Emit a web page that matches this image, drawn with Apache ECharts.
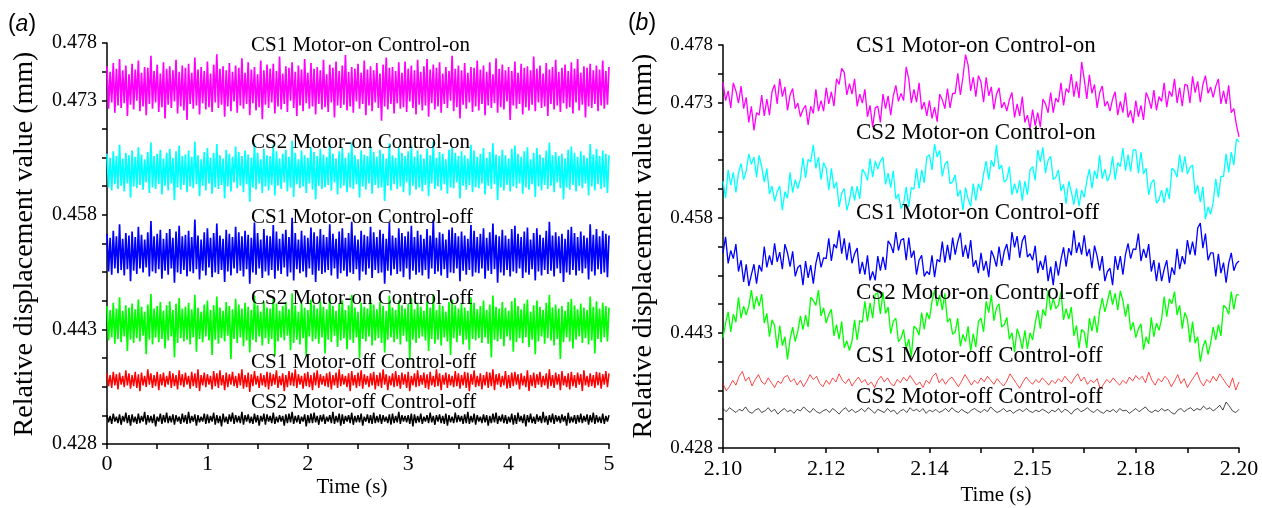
<!DOCTYPE html>
<html>
<head>
<meta charset="utf-8">
<script src="https://cdn.jsdelivr.net/npm/echarts@6/dist/echarts.min.js"></script>
<style>
html,body{margin:0;padding:0;background:#fff}
#chart{width:1262px;height:508px}
</style>
</head>
<body>
<div id="chart"></div>
<script>
// tick labels (the figure labels its ticks unevenly, keep them as printed)
var yTickLabels = ['0.428','','','','0.443','','','','0.458','','','','0.473','','0.478'];
var xTickLabelsA = ['0','','1','','2','','3','','4','','5'];
var xTickLabelsB = ['2.10','','2.12','','2.14','','2.15','','2.18','','2.20'];

var seriesNames = ['CS1 Motor-on Control-on','CS2 Motor-on Control-on','CS1 Motor-on Control-off',
    'CS2 Motor-on Control-off','CS1 Motor-off Control-off','CS2 Motor-off Control-off'];
var seriesColors = ['#ff00ff','#00ffff','#0000ff','#00ff00','#ff0000','#000000'];

// (a) 0 - 5 s, displacement in um
var a_cs1_on_on = [475.1,469.8,474.4,470.6,475.5,469.3,474.8,470.2,476.0,469.9,
474.6,470.5,475.2,468.9,474.1,470.3,475.4,469.7,474.7,470.8,
475.8,469.5,474.3,470.1,475.0,469.0,474.9,470.4,476.4,469.8,
474.5,470.6,475.3,469.4,474.2,470.0,475.6,468.6,474.8,470.3,
475.1,469.9,474.6,470.7,475.9,469.2,474.4,470.1,475.2,469.6,
474.9,468.4,475.4,470.4,474.3,469.8,476.2,470.2,474.7,469.1,
475.0,470.5,474.5,469.7,475.7,470.0,474.2,469.4,475.3,470.6,
476.6,469.9,474.8,470.3,475.1,468.8,474.6,470.1,475.5,469.5,
474.4,470.7,475.2,469.3,474.9,470.2,476.1,469.8,474.3,470.4,
475.6,469.0,474.7,470.5,475.0,469.6,474.1,470.0,475.8,468.5,
474.6,470.3,475.3,469.9,474.8,470.6,475.4,469.2,474.5,470.1,
476.3,469.7,474.2,470.4,475.1,469.4,474.9,470.8,475.6,469.9,
474.4,468.9,475.2,470.2,474.7,469.5,476.0,470.5,474.3,469.8,
475.5,470.1,474.8,469.1,475.0,470.4,474.6,469.7,475.9,470.0,
474.1,469.4,475.3,470.6,474.9,468.7,475.7,470.2,474.5,469.9,
475.2,470.3,476.5,469.6,474.4,470.1,475.0,469.3,474.8,470.7,
475.4,469.8,474.3,470.4,475.8,469.0,474.7,470.2,475.1,469.5,
474.6,470.6,475.5,469.9,474.2,468.3,475.3,470.1,476.2,469.7,
474.9,470.4,475.0,469.2,474.5,470.5,475.6,469.8,474.3,470.0,
475.7,469.4,474.8,470.7,475.2,469.9,474.6,469.1,475.9,470.3,
474.4,469.6,475.1,470.2,476.0,468.8,474.7,470.5,475.3,469.7,
474.9,470.1,475.6,469.3,474.2,470.4,475.0,469.9,474.5,470.8,
476.4,469.5,474.8,470.0,475.2,468.6,474.6,470.3,475.5,469.8,
474.3,470.6,475.0,469.4,474.9,470.1,475.8,469.6,474.7,470.4,
475.2,469.0,474.4,470.2,475.6,469.9,474.1,470.5,476.1,469.3,
474.8,470.0,475.3,469.7,474.6,470.7,475.0,468.4,474.5,470.2,
475.7,469.8,474.3,470.4,475.4,469.1,474.9,470.0,475.1,469.6,
474.6,470.3,476.3,469.5,474.8,470.6,475.2,469.9,474.2,470.1,
475.5,468.9,474.7,470.4,475.0,469.7,475.9,470.2,474.4,469.4,
474.9,470.5,475.3,469.8,474.5,470.0,475.6,469.2,474.8,470.6,
476.0,469.6,474.3,470.3,475.1,468.7,474.9,470.1,475.4,469.9,
474.6,470.4,475.2,469.5,474.7,470.2,475.8,469.8,474.5,470.3,
475.0];
var a_cs2_on_on = [464.2,460.0,463.7,459.6,464.5,460.4,463.9,459.8,465.3,460.2,
463.6,459.5,464.3,460.5,464.0,458.7,464.6,460.1,463.8,459.9,
465.0,460.3,464.1,459.7,463.5,460.6,464.4,459.3,465.6,460.0,
463.9,459.8,464.2,460.4,464.7,459.1,463.6,460.2,464.3,459.6,
464.8,460.5,463.7,458.4,464.5,460.0,465.2,459.7,463.9,460.3,
464.1,459.4,464.6,460.1,463.8,459.9,465.7,460.4,464.0,458.9,
463.5,460.2,464.4,459.6,464.9,460.5,463.7,459.2,464.3,460.0,
465.4,459.8,464.0,460.3,463.6,458.6,464.7,460.1,464.2,459.5,
463.8,460.6,465.1,459.9,464.4,460.2,463.9,459.4,464.6,460.4,
464.1,458.2,463.7,460.0,465.5,459.7,464.3,460.5,463.5,459.3,
464.8,460.1,464.0,459.6,463.9,460.3,465.3,459.0,464.5,460.2,
463.6,459.8,464.2,460.6,464.7,459.5,463.8,460.0,465.8,458.8,
464.3,460.4,463.5,459.9,464.6,460.1,464.0,459.3,463.7,460.5,
465.0,459.7,464.4,458.5,463.9,460.2,464.8,459.8,464.1,460.0,
463.8,460.3,465.4,459.6,464.2,460.6,463.6,459.1,464.5,459.9,
464.9,460.2,463.7,459.4,464.3,460.0,465.6,459.8,464.0,460.4,
463.5,458.7,464.6,460.1,464.1,459.7,463.9,460.5,465.1,459.2,
464.4,460.3,463.8,459.9,464.7,460.0,464.2,458.3,463.6,460.2,
465.5,459.6,464.0,460.4,463.7,459.8,464.9,460.1,464.3,459.4,
463.9,460.6,464.5,459.0,465.2,460.2,463.8,459.7,464.6,460.0,
464.1,459.5,463.6,460.3,464.8,458.9,464.0,460.5,465.7,459.8,
463.7,460.1,464.4,459.6,464.2,460.4,463.5,459.2,464.7,460.0,
465.0,459.9,464.3,460.6,463.9,458.6,464.5,460.2,464.0,459.7,
463.6,460.3,465.3,459.4,464.6,460.0,463.8,459.9,464.2,460.5,
464.9,459.1,463.7,460.2,464.4,459.8,465.5,460.4,464.1,458.4,
463.9,460.0,464.7,459.6,464.0,460.3,463.6,459.5,464.8,460.1,
465.2,459.9,464.2,460.5,463.8,459.2,464.5,460.0,465.0,459.7,
463.5,460.4,464.3,458.8,464.9,460.1,464.1,459.6,463.7,460.3,
464.6,459.8,465.6,460.2,464.0,459.4,464.4,460.6,463.9,459.9,
464.2,458.5,463.6,460.0,464.7,459.7,465.1,460.3,464.3,459.5,
463.8,460.2,464.5,459.9,464.0,460.5,463.7,459.0,465.4,460.1,
464.1,459.6,464.8,460.4,463.9,459.8,464.6,460.0,464.2,459.3,
464.0];
var a_cs1_on_off = [454.2,449.5,453.7,449.1,454.6,449.9,453.9,449.3,455.4,449.7,
453.6,449.0,454.3,449.8,454.0,448.3,454.5,449.6,453.8,449.2,
455.1,449.9,454.1,449.4,453.5,450.0,454.4,448.9,455.8,449.5,
453.9,449.3,454.2,449.8,454.7,448.6,453.6,449.6,454.3,449.1,
454.8,449.9,453.7,448.1,454.5,449.4,455.2,449.2,453.9,449.7,
454.1,448.9,454.6,449.5,453.8,449.3,456.0,449.8,454.0,448.5,
453.5,449.6,454.4,449.0,454.9,450.0,453.7,448.8,454.3,449.4,
455.5,449.2,454.0,449.7,453.6,448.2,454.7,449.5,454.2,449.0,
453.8,449.9,455.1,449.3,454.4,449.6,453.9,448.9,454.6,449.8,
454.1,448.0,453.7,449.4,455.6,449.1,454.3,449.9,453.5,448.7,
454.8,449.5,454.0,449.0,453.9,449.7,455.3,448.6,454.5,449.6,
453.6,449.2,454.2,450.0,454.7,448.9,453.8,449.4,456.2,448.4,
454.3,449.8,453.5,449.3,454.6,449.5,454.0,448.8,453.7,449.9,
455.0,449.1,454.4,448.2,453.9,449.6,454.8,449.2,454.1,449.4,
453.8,449.7,455.4,449.0,454.2,449.9,453.6,448.6,454.5,449.3,
454.9,449.6,453.7,448.9,454.3,449.4,455.7,449.2,454.0,449.8,
453.5,448.4,454.6,449.5,454.1,449.1,453.9,449.9,455.1,448.7,
454.4,449.7,453.8,449.3,454.7,449.4,454.2,448.0,453.6,449.6,
455.6,449.0,454.0,449.8,453.7,449.2,454.9,449.5,454.3,448.8,
453.9,449.9,454.5,448.5,455.2,449.6,453.8,449.1,454.6,449.4,
454.1,449.0,453.6,449.7,454.8,448.6,454.0,449.9,456.0,449.2,
453.7,449.5,454.4,449.0,454.2,449.8,453.5,448.7,454.7,449.4,
455.0,449.3,454.3,449.9,453.9,448.3,454.5,449.6,454.0,449.1,
453.6,449.7,455.3,448.9,454.6,449.4,453.8,449.3,454.2,449.9,
454.9,448.6,453.7,449.6,454.4,449.2,455.5,449.8,454.1,448.1,
453.9,449.4,454.7,449.0,454.0,449.7,453.6,448.9,454.8,449.5,
455.2,449.3,454.2,449.9,453.8,448.7,454.5,449.4,455.0,449.1,
453.5,449.8,454.3,448.4,454.9,449.5,454.1,449.0,453.7,449.7,
454.6,449.2,455.7,449.6,454.0,448.9,454.4,449.9,453.9,449.3,
454.2,448.2,453.6,449.4,454.7,449.1,455.1,449.7,454.3,449.0,
453.8,449.6,454.5,449.3,454.0,449.9,453.7,448.5,455.4,449.5,
454.1,449.0,454.8,449.8,453.9,449.2,454.6,449.4,454.2,448.8,
454.0];
var a_cs2_on_off = [445.2,440.9,444.7,441.3,445.6,440.5,444.9,441.1,446.3,440.7,
444.6,441.4,445.3,439.6,445.0,441.0,445.5,440.6,444.8,441.2,
446.0,440.8,445.1,441.5,444.5,439.2,445.4,441.0,446.7,440.4,
444.9,441.3,445.2,440.7,445.7,441.1,444.6,439.9,445.3,440.9,
445.8,441.4,444.7,438.8,445.5,440.6,446.2,441.2,444.9,440.8,
445.1,441.0,445.6,440.4,444.8,441.3,446.6,439.5,445.0,441.1,
444.5,440.7,445.4,441.4,445.9,440.9,444.7,439.1,445.3,441.0,
446.4,440.5,445.0,441.2,444.6,440.8,445.7,441.5,445.2,438.6,
444.8,441.1,446.1,440.6,445.4,441.3,444.9,440.2,445.6,440.9,
445.1,439.4,444.7,441.0,446.5,440.7,445.3,441.4,444.5,440.3,
445.8,441.2,445.0,440.5,444.9,441.1,446.3,439.0,445.5,440.8,
444.6,441.3,445.2,440.9,445.7,441.5,444.8,439.7,446.8,440.6,
445.3,441.0,444.5,440.4,445.6,441.2,445.0,438.9,444.7,441.4,
446.0,440.8,445.4,441.1,444.9,440.5,445.8,441.3,445.1,439.3,
444.8,441.0,446.4,440.7,445.2,441.5,444.6,440.1,445.5,440.9,
445.9,441.2,444.7,439.8,445.3,441.0,446.6,440.6,445.0,441.3,
444.5,438.7,445.6,441.1,445.1,440.8,444.9,441.4,446.1,440.3,
445.4,440.9,444.8,441.2,445.7,440.6,445.2,439.4,444.6,441.0,
446.5,441.3,445.0,440.7,444.7,441.1,445.9,440.4,445.3,441.5,
444.9,440.8,445.5,438.5,446.2,441.0,444.8,440.6,445.6,441.2,
445.1,441.4,444.6,440.9,445.8,439.6,445.0,441.1,446.7,440.5,
444.7,441.0,445.4,440.3,445.2,441.3,444.5,440.8,445.7,439.1,
446.0,441.2,445.3,440.7,444.9,441.5,445.5,440.4,445.0,441.0,
444.6,439.7,446.3,441.1,445.6,440.9,444.8,441.2,445.2,440.6,
445.9,441.3,444.7,440.5,445.4,438.8,446.5,441.0,445.1,440.8,
444.9,441.1,445.7,440.2,445.0,441.4,444.6,440.9,445.8,439.5,
446.2,440.7,445.2,441.2,444.8,440.6,445.5,441.3,446.0,440.1,
444.5,441.0,445.3,439.2,445.9,440.8,445.1,441.4,444.7,440.5,
445.6,441.2,446.6,440.9,445.0,440.3,445.4,441.1,444.9,438.6,
445.2,440.7,444.6,441.3,445.7,440.8,446.1,439.9,445.3,441.0,
444.8,441.4,445.5,440.6,445.0,441.2,444.7,440.4,446.4,440.9,
445.1,439.3,445.8,441.1,444.9,440.7,445.6,441.3,445.2,440.8,
445.0];
var a_cs1_off_off = [436.8,435.2,436.6,435.0,437.0,435.3,436.7,434.8,436.9,435.4,
436.5,435.1,437.2,435.3,436.8,434.9,436.6,435.2,437.0,435.0,
436.7,434.6,436.9,435.3,436.5,435.1,437.3,435.4,436.8,435.0,
436.6,435.2,437.0,434.7,436.7,435.3,436.9,435.1,436.5,435.4,
437.1,435.0,436.8,435.2,436.6,434.8,437.2,435.3,436.7,435.1,
436.9,435.4,436.5,434.9,437.0,435.2,436.8,435.0,437.3,434.6,
436.6,435.3,436.9,435.1,436.7,435.4,436.5,434.8,437.1,435.2,
436.8,435.0,437.2,435.3,436.6,434.7,436.9,435.1,436.7,435.4,
437.0,435.2,436.5,435.0,436.8,435.3,437.3,434.9,436.6,435.1,
436.9,434.5,436.7,435.2,437.1,435.4,436.5,435.0,436.8,435.3,
436.6,435.1,437.0,434.8,436.9,435.2,436.7,435.4,437.2,435.0,
436.5,435.3,436.8,434.6,436.6,435.1,437.1,435.3,436.9,435.2,
437.3,435.0,436.7,435.4,436.5,434.9,436.8,435.2,437.0,435.1,
436.6,434.7,436.9,435.3,437.2,435.0,436.7,435.4,436.5,435.2,
436.8,435.1,437.0,434.8,436.6,435.3,436.9,435.0,437.3,435.2,
436.7,435.4,436.5,435.1,436.8,434.6,437.1,435.3,436.6,435.0,
436.9,435.2,437.2,434.9,436.7,435.4,436.5,435.1,436.8,435.3,
437.0,434.8,436.6,435.2,436.9,435.0,437.3,435.4,436.7,434.7,
436.5,435.3,436.8,435.1,437.1,435.2,436.6,434.9,436.9,435.4,
436.7,435.0,437.0,434.6,436.5,435.3,436.8,435.1,437.2,435.2,
436.6,435.4,436.9,435.0,436.7,434.8,437.0,435.3,436.5,435.1,
437.3,435.2,436.8,434.7,436.6,435.4,436.9,435.0,436.7,435.3,
436.5,435.1,437.1,435.2,436.8,434.9,436.6,435.3,437.0,435.0,
436.9,434.6,436.7,435.4,437.2,435.1,436.5,435.2,436.8,434.8,
436.6,435.3,437.0,435.0,436.9,435.2,437.3,434.7,436.7,435.4,
436.8,435.1,436.5,435.3,437.1,434.9,436.6,435.0,436.9,435.2,
437.0,435.4,436.7,434.8,436.8,435.3,436.5,435.1,437.2,434.6,
436.6,435.2,436.9,435.0,436.7,435.4,437.0,435.1,436.5,435.3,
436.8,434.9,437.3,435.2,436.6,435.0,436.9,435.4,436.7,434.7,
437.1,435.3,436.5,435.1,436.8,434.8,437.0,435.2,436.6,435.0,
436.9,435.4,436.7,434.6,437.2,435.3,436.5,435.1,436.8,435.2,
436.6,435.0,437.0,435.3,436.9,434.9,436.7,435.4,437.1,435.1,
436.8];
var a_cs2_off_off = [431.6,430.7,431.5,430.5,431.8,430.8,431.4,430.6,431.7,430.4,
431.5,430.8,431.9,430.6,431.6,430.3,431.7,430.7,431.4,430.5,
431.8,430.6,431.5,430.8,432.0,430.4,431.6,430.7,431.5,430.6,
431.7,430.2,431.4,430.8,431.8,430.5,431.6,430.7,431.9,430.6,
431.5,430.7,431.7,430.4,431.6,430.8,431.4,430.5,431.8,430.7,
431.6,430.5,432.0,430.6,431.5,430.8,431.7,430.3,431.6,430.7,
431.4,430.8,431.8,430.5,431.7,430.6,431.5,430.8,431.9,430.4,
431.6,430.6,431.5,430.2,431.8,430.7,431.4,430.5,431.7,430.8,
431.9,430.5,431.6,430.7,431.5,430.6,432.0,430.4,431.6,430.8,
431.7,430.6,431.4,430.5,431.8,430.7,431.6,430.3,431.5,430.8,
431.8,430.4,431.7,430.8,431.5,430.6,431.9,430.5,431.4,430.7,
431.6,430.8,431.5,430.3,431.7,430.6,431.8,430.7,432.0,430.5,
431.5,430.7,431.6,430.5,431.4,430.8,431.7,430.2,431.6,430.6,
431.8,430.6,431.9,430.7,431.5,430.4,431.6,430.8,431.7,430.5,
431.4,430.8,431.6,430.6,432.0,430.5,431.5,430.7,431.8,430.3,
431.7,430.5,431.5,430.8,431.6,430.6,431.9,430.4,431.5,430.7,
431.6,430.7,431.8,430.3,431.4,430.8,431.7,430.6,431.6,430.5,
431.9,430.6,431.5,430.7,431.7,430.5,431.6,430.8,431.4,430.6,
431.7,430.4,431.8,430.6,431.5,430.7,432.0,430.5,431.6,430.8,
431.5,430.7,431.6,430.5,431.8,430.2,431.7,430.6,431.5,430.7,
431.8,430.5,431.4,430.8,431.6,430.6,431.9,430.7,431.5,430.4,
431.6,430.8,431.7,430.6,431.5,430.5,431.8,430.3,431.6,430.7,
431.4,430.6,431.9,430.7,431.6,430.8,431.5,430.5,431.7,430.6,
432.0,430.5,431.5,430.7,431.8,430.4,431.6,430.8,431.4,430.6,
431.7,430.7,431.6,430.3,431.5,430.6,431.8,430.7,431.9,430.5,
431.5,430.8,431.7,430.6,431.6,430.5,431.4,430.7,431.8,430.4,
431.6,430.5,431.9,430.8,431.5,430.6,431.7,430.2,431.6,430.7,
431.8,430.6,431.4,430.5,431.7,430.8,431.5,430.6,432.0,430.7,
431.5,430.4,431.6,430.7,431.8,430.5,431.6,430.8,431.5,430.6,
431.7,430.8,431.5,430.3,431.9,430.6,431.4,430.7,431.6,430.5,
431.6,430.7,431.8,430.6,431.5,430.8,431.7,430.4,431.6,430.7,
431.9,430.5,431.6,430.7,431.4,430.6,431.8,430.5,431.5,430.8,
431.6];

// (b) 2.10 - 2.20 s, displacement in um
var b_cs1_on_on = [473.4,471.1,472.3,470.2,473.3,472.3,470.8,472.9,470.1,471.5,
468.4,470.4,467.4,469.6,469.3,471.8,469.2,471.3,469.3,472.2,
473.1,470.7,473.8,471.6,472.8,469.9,471.8,472.6,470.1,470.8,
469.1,470.0,470.5,468.1,470.4,469.5,472.5,469.8,471.1,469.8,
472.7,470.7,472.2,470.4,473.8,473.1,475.1,474.6,471.8,473.2,
471.9,473.8,470.4,471.9,470.8,472.5,469.1,470.5,467.8,470.2,
470.4,468.4,471.9,470.1,471.7,469.3,471.7,473.0,471.0,472.0,
471.1,475.3,473.8,470.8,472.5,470.9,473.3,470.0,470.9,469.2,
471.1,468.9,470.3,468.5,471.9,471.2,470.1,472.6,470.2,472.0,
472.0,474.5,471.8,474.0,476.8,475.5,472.3,474.0,471.6,474.2,
473.4,470.9,474.0,471.7,472.8,470.0,471.9,472.7,470.2,470.9,
469.8,471.2,472.1,469.0,470.7,469.2,471.6,468.4,469.3,467.6,
470.0,468.0,469.6,467.8,471.3,470.7,469.6,472.1,469.6,471.4,
470.9,473.3,470.5,472.6,472.1,474.4,471.6,473.5,471.4,475.9,
473.8,471.3,474.3,472.0,473.1,470.2,472.1,472.9,470.4,471.0,
469.8,471.3,472.2,469.3,471.0,469.6,472.1,469.0,469.9,468.3,
471.1,469.1,470.5,468.7,472.1,471.3,470.1,472.4,469.9,471.6,
471.0,473.3,470.3,472.3,471.6,473.8,470.8,472.7,470.4,473.1,
473.0,470.8,474.1,472.1,473.5,470.9,473.1,474.2,472.0,472.8,
471.5,472.9,473.8,470.7,472.3,470.7,473.0,469.6,470.1,468.1,
466.6];
var b_cs2_on_on = [461.1,459.0,462.5,460.6,462.2,459.7,462.1,463.3,461.3,462.4,
464.5,463.2,464.1,461.6,464.3,462.9,461.0,462.7,459.5,460.5,
458.6,459.8,460.5,457.5,459.8,459.0,462.2,459.7,461.3,460.2,
461.4,464.0,461.5,463.8,463.5,465.6,462.7,464.1,461.3,463.4,
462.7,460.0,462.7,460.2,461.0,457.9,459.6,460.2,457.5,458.7,
460.5,458.7,460.5,458.9,462.6,462.1,461.2,463.9,461.6,463.6,
462.6,463.6,464.1,460.7,462.1,460.3,462.4,458.9,459.5,457.7,
458.3,460.4,457.9,460.3,460.1,462.7,460.2,462.5,460.9,464.1,
464.4,462.5,465.7,464.1,464.9,461.7,463.2,463.6,460.8,461.0,
461.9,459.2,460.0,457.5,460.3,458.9,458.0,460.8,458.7,460.8,
459.9,462.0,463.6,461.3,463.7,462.9,465.6,462.6,463.1,461.0,
461.3,462.9,459.4,460.8,459.6,461.2,458.7,461.1,459.4,462.5,
462.9,461.2,465.0,463.5,465.3,462.1,463.7,464.2,461.3,461.6,
462.5,459.9,460.7,458.3,461.1,459.8,458.2,460.2,458.0,460.0,
459.1,461.1,462.6,460.2,462.4,461.4,464.3,461.4,462.6,461.1,
461.9,464.2,461.3,463.4,462.9,465.2,462.4,464.4,462.3,465.0,
465.0,462.1,464.7,462.0,462.7,459.4,460.9,461.3,458.4,458.8,
460.0,458.4,460.3,458.9,462.7,462.4,461.6,464.4,462.2,464.2,
462.0,462.8,463.1,459.5,460.6,458.5,460.4,456.4,457.9,457.0,
458.5,461.4,459.1,461.7,461.7,464.5,462.2,464.7,463.1,466.3,
466.0];
var b_cs1_on_off = [452.2,454.2,450.9,452.5,451.5,453.3,449.9,451.3,448.6,450.8,
448.1,449.5,450.8,448.4,450.7,449.9,453.0,450.4,451.9,450.7,
453.4,451.1,452.3,450.2,453.3,452.2,450.5,452.4,449.3,450.4,
450.7,448.2,451.2,449.1,450.7,448.4,450.9,452.3,450.4,451.6,
451.5,454.0,451.2,453.3,452.8,455.0,452.1,454.0,451.3,453.5,
450.9,452.1,452.8,449.6,451.1,449.5,451.9,448.8,449.9,448.8,
451.8,450.0,451.7,450.1,453.7,453.2,452.2,454.8,452.5,453.8,
454.0,451.3,454.1,451.6,452.5,449.5,451.3,451.9,449.3,449.9,
449.5,451.9,449.2,451.4,451.1,453.6,451.0,453.2,451.3,454.1,
452.0,453.6,454.7,451.7,453.2,451.5,453.8,450.5,451.3,449.7,
452.2,450.0,451.2,449.2,452.5,451.7,450.5,453.0,450.6,452.4,
453.3,451.3,454.8,452.9,454.3,451.6,453.7,454.4,451.7,452.1,
451.3,453.1,449.7,451.2,450.1,451.9,448.7,450.5,448.2,451.2,
449.4,451.4,452.9,450.5,452.8,451.9,455.0,452.2,453.5,452.0,
454.4,451.8,452.7,450.3,453.1,451.8,450.0,451.8,448.7,449.9,
450.3,448.2,451.8,450.1,451.8,449.5,452.0,453.4,451.5,452.7,
452.6,454.6,451.2,452.7,451.6,453.3,449.9,451.3,448.7,451.0,
448.7,450.2,451.3,448.5,450.4,449.5,452.7,450.2,451.8,450.8,
453.8,452.0,453.6,451.9,455.3,455.9,452.8,454.6,451.3,452.2,
452.2,449.3,452.1,449.7,451.0,448.5,450.9,452.2,450.0,450.9,
451.2];
var b_cs2_on_off = [441.7,443.5,444.9,442.4,444.6,443.6,446.7,444.1,445.6,444.5,
445.6,447.6,445.2,446.8,445.6,447.1,443.5,444.7,441.8,443.9,
443.2,440.4,443.2,440.7,441.8,439.0,441.5,443.0,441.2,442.5,
444.4,442.7,444.5,443.0,446.7,446.3,445.7,447.6,444.4,445.4,
443.5,444.6,445.2,441.9,443.3,441.5,443.7,440.4,441.3,440.1,
441.3,443.9,441.4,443.8,443.6,446.2,443.7,446.0,444.1,447.1,
447.2,444.6,447.3,444.7,445.5,442.2,443.7,444.1,441.2,441.6,
442.7,440.3,441.5,439.3,443.1,442.8,442.0,444.8,442.7,444.8,
444.0,446.2,447.6,445.6,447.0,445.1,447.2,443.6,444.1,442.1,
442.4,444.1,440.6,442.1,441.2,443.1,440.0,442.2,440.5,443.7,
444.1,442.4,446.2,444.8,447.0,443.8,445.4,445.9,443.0,443.3,
444.2,441.5,442.3,439.9,442.8,441.8,440.3,442.6,440.3,442.3,
441.4,443.5,445.1,442.8,445.2,444.4,447.6,445.1,446.6,445.3,
445.7,447.4,443.9,445.3,444.0,445.5,441.9,443.2,440.4,442.7,
442.4,440.4,444.1,442.5,444.4,442.3,445.0,446.6,444.9,446.2,
447.6,445.8,447.2,445.1,447.5,446.3,444.3,445.9,442.6,443.6,
441.7,442.8,443.4,440.2,441.8,440.9,444.2,441.8,443.5,442.6,
444.0,446.8,444.3,446.5,445.9,447.4,444.5,445.7,442.8,444.8,
444.0,441.1,443.7,441.0,441.8,438.7,440.5,441.4,439.6,441.0,
443.0,441.4,443.3,441.9,445.7,445.4,444.6,447.4,445.2,447.0,
447.0];
var b_cs1_off_off = [436.0,435.1,435.6,436.4,435.8,436.9,437.5,436.3,436.8,435.7,
436.5,437.1,436.2,435.9,436.7,436.1,435.5,436.3,436.0,436.8,
437.0,436.2,436.6,435.8,436.4,435.6,436.3,437.1,436.5,436.9,
436.0,435.6,436.4,435.9,436.7,436.2,437.2,436.4,436.0,436.6,
435.7,436.3,436.8,436.1,436.5,435.8,436.2,435.5,436.4,436.9,
436.2,436.7,436.0,435.7,436.5,436.1,436.8,436.3,437.0,436.4,
435.8,436.2,435.5,436.4,436.0,436.9,437.3,436.1,436.6,435.9,
436.5,436.8,436.2,435.6,436.3,437.1,436.5,435.8,436.4,436.0,
436.7,436.2,436.9,436.4,435.9,436.6,436.1,435.7,436.3,437.2,
436.6,436.0,435.4,436.2,436.8,436.3,435.9,436.5,436.1,436.7,
436.3,435.8,436.4,436.0,436.6,436.2,436.9,436.4,436.0,436.7,
437.2,436.3,436.8,435.9,436.4,436.1,436.6,435.3,435.9,436.5,
436.1,436.7,436.2,435.8,436.4,436.0,436.8,436.3,437.0,436.5,
436.9,436.1,437.4,436.4,435.8,436.6,436.2,436.9,436.5,435.6,
436.3,437.1,436.0,436.6,435.5,436.2,436.8,437.4,436.3,435.7,
436.5,436.1,436.9,436.3,437.2,436.6,436.0,435.5,436.7,435.2,
436.2];
var b_cs2_off_off = [432.9,432.5,433.0,432.7,432.4,432.8,432.6,433.1,432.5,432.3,
432.7,432.9,432.4,432.6,433.0,432.5,432.8,432.2,432.6,432.9,
432.5,432.7,432.3,432.8,432.6,433.1,432.7,432.4,432.9,432.5,
432.3,432.6,432.8,432.4,432.9,432.6,432.2,432.7,433.0,432.5,
432.8,432.4,432.6,432.9,432.5,433.0,432.7,432.3,432.8,432.6,
432.4,432.9,432.5,432.7,432.2,432.6,432.8,432.4,433.0,432.6,
432.8,432.5,432.9,432.3,432.7,432.5,432.8,432.4,432.6,432.9,
432.5,433.0,432.6,432.4,432.8,432.5,432.3,432.7,432.9,432.6,
432.4,432.8,432.5,433.1,432.7,432.4,432.6,432.9,432.5,432.7,
432.3,432.6,432.8,432.5,432.9,432.6,432.4,432.7,432.5,432.8,
432.6,432.3,432.7,432.5,432.9,432.4,432.8,432.6,432.2,432.7,
432.9,432.5,432.7,433.0,432.6,432.4,432.8,432.5,432.3,432.7,
432.5,432.8,432.4,432.9,432.6,432.7,432.3,432.6,432.9,432.5,
432.8,433.1,432.6,432.4,432.7,432.5,432.9,432.6,432.8,432.4,
432.2,432.7,432.9,432.5,432.8,433.0,432.6,432.9,432.7,433.2,
432.8,433.0,432.6,432.9,433.3,432.7,433.7,433.2,432.6,432.4,
432.8];

var panelA = [a_cs1_on_on, a_cs2_on_on, a_cs1_on_off, a_cs2_on_off, a_cs1_off_off, a_cs2_off_off];
var panelB = [b_cs1_on_on, b_cs2_on_on, b_cs1_on_off, b_cs2_on_off, b_cs1_off_off, b_cs2_off_off];

var serif = 'Liberation Serif';

// 样本均匀分布在时间段内, um -> mm
function toPairs(vals, t0, t1) {
    var out = [];
    var n = vals.length;
    for (var i = 0; i < n; i++) {
        out.push([t0 + (t1 - t0) * i / (n - 1), vals[i] / 1000]);
    }
    return out;
}

function visAxis(grid, max, labels, margin, size) {
    return {
        gridIndex: grid,
        type: 'value',
        min: 0,
        max: max,
        interval: 1,
        axisLine: {show: true, onZero: false, lineStyle: {color: '#000', width: 1.5}},
        axisTick: {show: true, length: 5, lineStyle: {color: '#000', width: 1.5}},
        axisLabel: {
            interval: 0,
            margin: margin,
            color: '#000',
            fontFamily: serif,
            fontSize: size,
            showMinLabel: true,
            showMaxLabel: true,
            formatter: function (v) {
                return labels[Math.round(v)] || '';
            }
        },
        splitLine: {show: false}
    };
}

var chart = echarts.init(document.getElementById('chart'), null, {renderer: 'canvas'});

var series = [];
for (var k = 0; k < 6; k++) {
    series.push({
        name: seriesNames[k],
        type: 'line',
        xAxisIndex: 1,
        yAxisIndex: 1,
        data: toPairs(panelA[k], 0, 5),
        showSymbol: false,
        symbol: 'none',
        silent: true,
        lineStyle: {color: seriesColors[k], width: k < 4 ? 1.7 : 1.5, join: 'bevel'},
        z: 2
    });
    series.push({
        name: seriesNames[k],
        type: 'line',
        xAxisIndex: 3,
        yAxisIndex: 3,
        data: toPairs(panelB[k], 2.10, 2.20),
        showSymbol: false,
        symbol: 'none',
        silent: true,
        lineStyle: {color: seriesColors[k], width: k < 4 ? 1.3 : 0.9, opacity: k < 4 ? 1 : 0.8, join: 'bevel'},
        z: 2
    });
}

var labelYA = [47, 144, 219, 300, 364, 404];
var labelYB = [47, 134, 214, 294, 357, 398];
var graphics = [];
for (var j = 0; j < 6; j++) {
    graphics.push({type: 'text', left: 251, top: labelYA[j] - 12, silent: true, z: 10,
        style: {text: seriesNames[j], fill: '#000', fontFamily: serif, fontSize: 21}});
    graphics.push({type: 'text', left: 856, top: labelYB[j] - 13, silent: true, z: 10,
        style: {text: seriesNames[j], fill: '#000', fontFamily: serif, fontSize: 23}});
}
graphics.push({type: 'text', x: 25, y: 244, rotation: Math.PI / 2, silent: true,
    style: {text: 'Relative displacement value (mm)', fill: '#000', fontFamily: serif, fontSize: 28,
        align: 'center', verticalAlign: 'middle'}});
graphics.push({type: 'text', x: 644, y: 246, rotation: Math.PI / 2, silent: true,
    style: {text: 'Relative displacement value (mm)', fill: '#000', fontFamily: serif, fontSize: 28,
        align: 'center', verticalAlign: 'middle'}});
graphics.push({type: 'text', x: 352, y: 487, silent: true,
    style: {text: 'Time (s)', fill: '#000', fontFamily: serif, fontSize: 21, align: 'center', verticalAlign: 'middle'}});
graphics.push({type: 'text', x: 996, y: 495, silent: true,
    style: {text: 'Time (s)', fill: '#000', fontFamily: serif, fontSize: 21, align: 'center', verticalAlign: 'middle'}});
graphics.push({type: 'text', x: 22, y: 25, silent: true,
    style: {text: '({i|a})', fill: '#000', fontFamily: 'Liberation Sans', fontSize: 23,
        align: 'center', verticalAlign: 'middle',
        rich: {i: {fontStyle: 'italic', fontSize: 23, fontFamily: 'Liberation Sans'}}}});
graphics.push({type: 'text', x: 642, y: 24, silent: true,
    style: {text: '({i|b})', fill: '#000', fontFamily: 'Liberation Sans', fontSize: 23,
        align: 'center', verticalAlign: 'middle',
        rich: {i: {fontStyle: 'italic', fontSize: 23, fontFamily: 'Liberation Sans'}}}});

var option = {
    animation: false,
    backgroundColor: '#fff',
    grid: [
        {left: 107, top: 43, width: 502, height: 401},
        {left: 723, top: 45, width: 516, height: 403}
    ],
    xAxis: [
        visAxis(0, 10, xTickLabelsA, 9, 22),
        {gridIndex: 0, type: 'value', min: 0, max: 5, show: false},
        visAxis(1, 10, xTickLabelsB, 10, 22),
        {gridIndex: 1, type: 'value', min: 2.10, max: 2.20, show: false}
    ],
    yAxis: [
        visAxis(0, 14, yTickLabels, 10, 20),
        {gridIndex: 0, type: 'value', min: 0.428, max: 0.478, show: false},
        visAxis(1, 14, yTickLabels, 10, 19),
        {gridIndex: 1, type: 'value', min: 0.428, max: 0.478, show: false}
    ],
    graphic: graphics,
    series: series
};
chart.setOption(option);
</script>
</body>
</html>
